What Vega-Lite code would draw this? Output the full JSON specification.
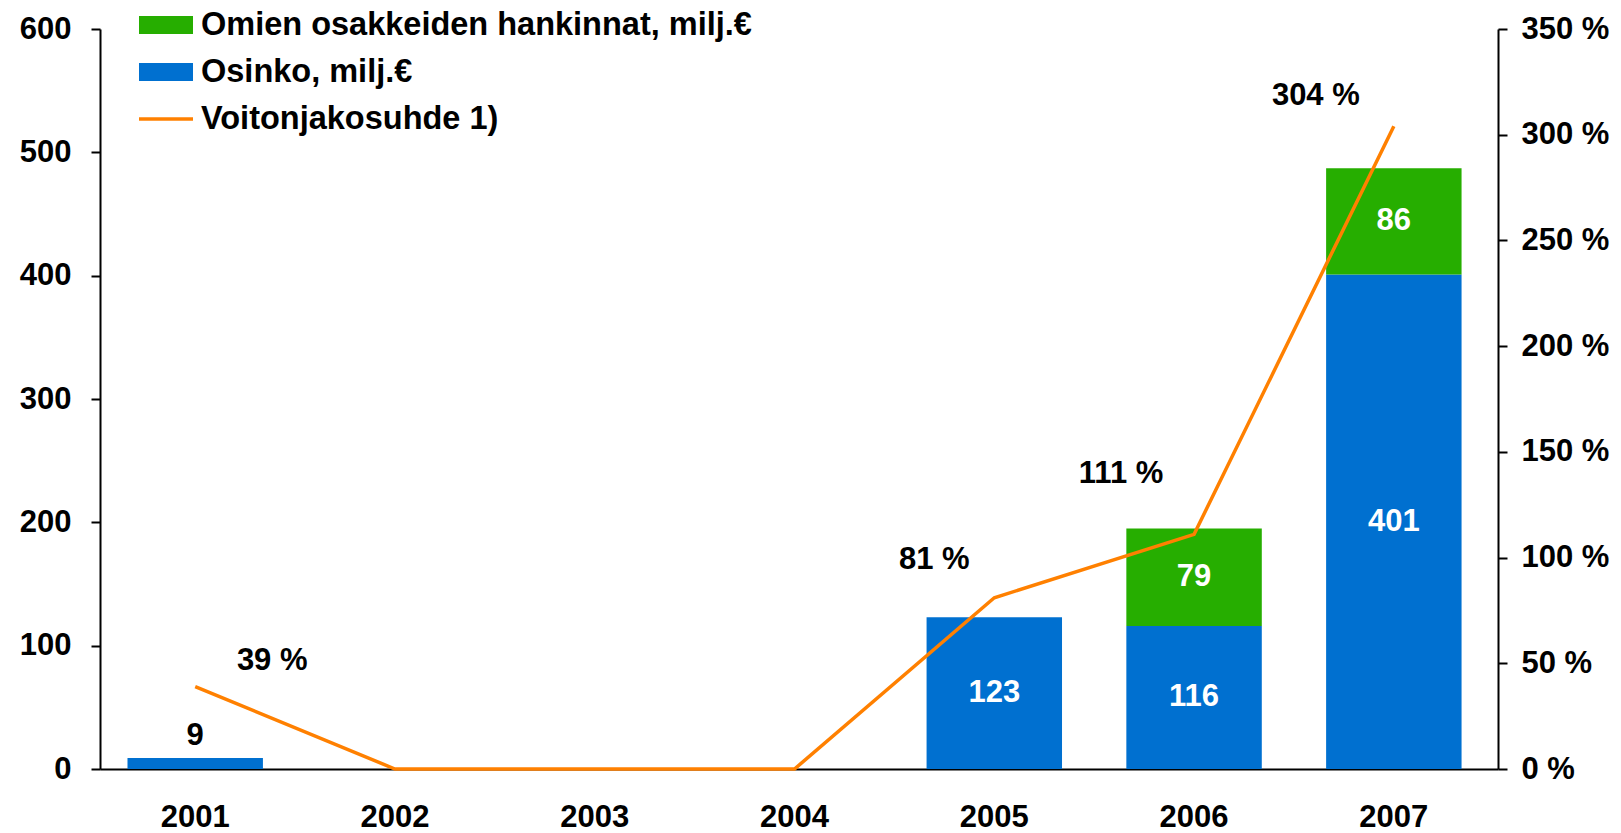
{
  "$schema": "https://vega.github.io/schema/vega-lite/v6.json",
  "width": 1398,
  "height": 740,
  "autosize": {"type": "none"},
  "padding": {"left": 100, "top": 29, "right": 123, "bottom": 64},
  "background": "white",
  "config": {
    "font": "Liberation Sans",
    "view": {"stroke": null},
    "axis": {
      "labelFont": "Liberation Sans",
      "labelFontWeight": "bold",
      "labelFontSize": 31,
      "labelColor": "black",
      "domainColor": "black",
      "tickColor": "black",
      "domainWidth": 2,
      "tickWidth": 2,
      "grid": false
    }
  },
  "datasets": {
    "bars": [
      {"year": "2001", "series": "Osinko, milj.€", "value": 9, "rank": 1},
      {"year": "2005", "series": "Osinko, milj.€", "value": 123, "rank": 1},
      {"year": "2006", "series": "Osinko, milj.€", "value": 116, "rank": 1},
      {"year": "2006", "series": "Omien osakkeiden hankinnat, milj.€", "value": 79, "rank": 2},
      {"year": "2007", "series": "Osinko, milj.€", "value": 401, "rank": 1},
      {"year": "2007", "series": "Omien osakkeiden hankinnat, milj.€", "value": 86, "rank": 2}
    ],
    "ratio": [
      {"year": "2001", "pct": 39},
      {"year": "2002", "pct": 0},
      {"year": "2003", "pct": 0},
      {"year": "2004", "pct": 0},
      {"year": "2005", "pct": 81},
      {"year": "2006", "pct": 111},
      {"year": "2007", "pct": 304}
    ]
  },
  "layer": [
    {
      "data": {"name": "bars"},
      "transform": [
        {"stack": "value", "groupby": ["year"], "sort": [{"field": "rank", "order": "ascending"}], "as": ["v0", "v1"]},
        {"calculate": "(datum.v0 + datum.v1) / 2", "as": "mid"}
      ],
      "layer": [
        {
          "mark": {"type": "bar"},
          "encoding": {
            "x": {
              "field": "year", "type": "ordinal", "title": null,
              "scale": {"domain": ["2001", "2002", "2003", "2004", "2005", "2006", "2007"], "paddingInner": 0.322, "paddingOuter": 0.16, "align": 0.43},
              "axis": {"labelAngle": 0, "ticks": false, "labelPadding": 33, "domainWidth": 2}
            },
            "y": {
              "field": "v0", "type": "quantitative", "title": null,
              "scale": {"domain": [0, 600], "nice": false},
              "axis": {"values": [0, 100, 200, 300, 400, 500, 600], "tickSize": 9, "labelPadding": 20, "orient": "left"}
            },
            "y2": {"field": "v1"},
            "color": {
              "field": "series", "type": "nominal",
              "scale": {
                "domain": ["Omien osakkeiden hankinnat, milj.€", "Osinko, milj.€", "Voitonjakosuhde 1)"],
                "range": ["#26AE00", "#0070D0", "#FF8000"]
              },
              "legend": {
                "orient": "none",
                "legendX": 37,
                "legendY": -33,
                "title": null,
                "labelFont": "Liberation Sans",
                "labelFontSize": 32.5,
                "labelFontWeight": "bold",
                "labelColor": "black",
                "labelLimit": 1000,
                "symbolSize": 2916,
                "labelOffset": 6,
                "rowPadding": 1,
                "encode": {
                  "symbols": {
                    "update": {
                      "shape": {"signal": "datum.value === 'Voitonjakosuhde 1)' ? 'M-1,0H1' : 'M-1,-0.33H1V0.33H-1Z'"},
                      "fill": {"signal": "datum.value === 'Voitonjakosuhde 1)' ? 'transparent' : scale('color', datum.value)"},
                      "stroke": {"signal": "datum.value === 'Voitonjakosuhde 1)' ? '#FF8000' : 'transparent'"},
                      "strokeWidth": {"value": 3.5},
                      "opacity": {"value": 1}
                    }
                  }
                }
              }
            }
          }
        },
        {
          "transform": [{"filter": "datum.value >= 50"}],
          "mark": {"type": "text", "color": "white", "fontSize": 31, "fontWeight": "bold", "font": "Liberation Sans", "baseline": "middle"},
          "encoding": {
            "x": {"field": "year", "type": "ordinal"},
            "y": {"field": "mid", "type": "quantitative", "title": null, "scale": {"domain": [0, 600], "nice": false},
              "axis": {"values": [0, 100, 200, 300, 400, 500, 600], "tickSize": 9, "labelPadding": 20, "orient": "left"}},
            "text": {"field": "value", "type": "quantitative"}
          }
        },
        {
          "transform": [{"filter": "datum.value < 50"}],
          "mark": {"type": "text", "color": "black", "fontSize": 31, "fontWeight": "bold", "font": "Liberation Sans", "baseline": "middle", "dy": -22},
          "encoding": {
            "x": {"field": "year", "type": "ordinal"},
            "y": {"field": "v1", "type": "quantitative", "title": null, "scale": {"domain": [0, 600], "nice": false},
              "axis": {"values": [0, 100, 200, 300, 400, 500, 600], "tickSize": 9, "labelPadding": 20, "orient": "left"}},
            "text": {"field": "value", "type": "quantitative"}
          }
        }
      ]
    },
    {
      "data": {"name": "ratio"},
      "transform": [{"calculate": "datum.pct + ' %'", "as": "label"}],
      "layer": [
        {
          "mark": {"type": "line", "color": "#FF8000", "strokeWidth": 3.5},
          "encoding": {
            "x": {"field": "year", "type": "ordinal"},
            "y": {
              "field": "pct", "type": "quantitative", "title": null,
              "scale": {"domain": [0, 350], "nice": false},
              "axis": {"orient": "right", "values": [0, 50, 100, 150, 200, 250, 300, 350], "labelExpr": "datum.value + ' %'", "tickSize": 9, "labelPadding": 14}
            }
          }
        },
        {
          "transform": [{"filter": "datum.year === '2001'"}],
          "mark": {"type": "text", "color": "black", "fontSize": 31, "fontWeight": "bold", "font": "Liberation Sans", "baseline": "middle", "dx": 77, "dy": -26},
          "encoding": {
            "x": {"field": "year", "type": "ordinal"},
            "y": {"field": "pct", "type": "quantitative"},
            "text": {"field": "label", "type": "nominal"}
          }
        },
        {
          "transform": [{"filter": "datum.year === '2005'"}],
          "mark": {"type": "text", "color": "black", "fontSize": 31, "fontWeight": "bold", "font": "Liberation Sans", "baseline": "middle", "dx": -60, "dy": -38},
          "encoding": {
            "x": {"field": "year", "type": "ordinal"},
            "y": {"field": "pct", "type": "quantitative"},
            "text": {"field": "label", "type": "nominal"}
          }
        },
        {
          "transform": [{"filter": "datum.year === '2006'"}],
          "mark": {"type": "text", "color": "black", "fontSize": 31, "fontWeight": "bold", "font": "Liberation Sans", "baseline": "middle", "dx": -73, "dy": -60},
          "encoding": {
            "x": {"field": "year", "type": "ordinal"},
            "y": {"field": "pct", "type": "quantitative"},
            "text": {"field": "label", "type": "nominal"}
          }
        },
        {
          "transform": [{"filter": "datum.year === '2007'"}],
          "mark": {"type": "text", "color": "black", "fontSize": 31, "fontWeight": "bold", "font": "Liberation Sans", "baseline": "middle", "dx": -78, "dy": -30},
          "encoding": {
            "x": {"field": "year", "type": "ordinal"},
            "y": {"field": "pct", "type": "quantitative"},
            "text": {"field": "label", "type": "nominal"}
          }
        }
      ]
    }
  ],
  "resolve": {"scale": {"y": "independent"}}
}
